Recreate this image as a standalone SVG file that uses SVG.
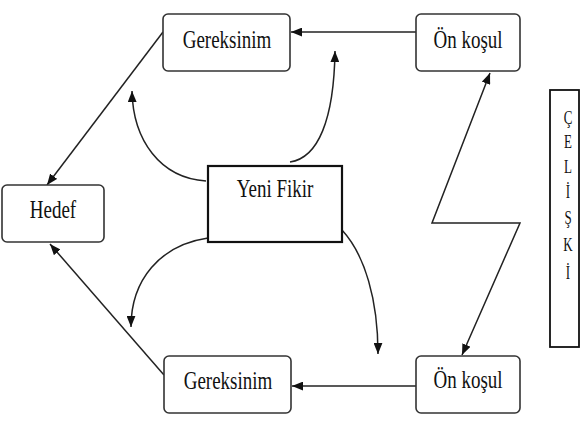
<svg xmlns="http://www.w3.org/2000/svg" width="585" height="422" viewBox="0 0 585 422">
<defs>
<style>
.box{fill:#fff;stroke:#333;stroke-width:1.6}
.fk{fill:#fff;stroke:#111;stroke-width:2.2}
.t{font-family:"Liberation Serif","Times New Roman",serif;font-size:19px;fill:#111;text-anchor:middle}
.s{font-family:"Liberation Serif","Times New Roman",serif;font-size:13px;fill:#111;text-anchor:middle}
.c{fill:none;stroke:#222;stroke-width:1.5}
</style>
<marker id="ah" viewBox="0 0 10 8" refX="10" refY="4" markerWidth="11" markerHeight="9" markerUnits="userSpaceOnUse" orient="auto-start-reverse">
<path d="M0,0 L10,4 L0,8 z" fill="#111"/>
</marker>
</defs>
<rect width="585" height="422" fill="#fff"/>
<g id="connectors">
<path class="c" d="M416,32 L291,32" marker-end="url(#ah)"/>
<path class="c" d="M416,386 L292,386" marker-end="url(#ah)"/>
<path class="c" d="M163,32 L47,185" marker-end="url(#ah)"/>
<path class="c" d="M164,375 L50,244" marker-end="url(#ah)"/>
<path class="c" d="M490,73 L432,223 L520,223 L462,355" marker-start="url(#ah)" marker-end="url(#ah)"/>
<path class="c" d="M206,181 C160,178 133,140 132,91" marker-end="url(#ah)"/>
<path class="c" d="M290,162 C318,158 334,120 335,51" marker-end="url(#ah)"/>
<path class="c" d="M208,238 C160,245 131,280 131,327" marker-end="url(#ah)"/>
<path class="c" d="M342,230 C365,255 378,300 378,354" marker-end="url(#ah)"/>
</g>
<g id="gereksinim-top">
<rect class="box" x="163" y="14" width="127" height="57" rx="5"/>
<text class="t" transform="translate(227,48) scale(1,1.38)">Gereksinim</text>
</g>
<g id="onkosul-top">
<rect class="box" x="416" y="14" width="104" height="57" rx="5"/>
<text class="t" transform="translate(468,48) scale(1,1.38)">Ön koşul</text>
</g>
<g id="hedef">
<rect class="box" x="2" y="185" width="102" height="57" rx="5"/>
<text class="t" transform="translate(53,218) scale(1,1.38)">Hedef</text>
</g>
<g id="yeni-fikir">
<rect class="fk" x="208" y="166" width="134" height="76"/>
<text class="t" transform="translate(275,197) scale(1,1.38)">Yeni Fikir</text>
</g>
<g id="gereksinim-bottom">
<rect class="box" x="164" y="356" width="127" height="57" rx="5"/>
<text class="t" transform="translate(228,389) scale(1,1.38)">Gereksinim</text>
</g>
<g id="onkosul-bottom">
<rect class="box" x="416" y="356" width="104" height="57" rx="5"/>
<text class="t" transform="translate(468,388) scale(1,1.38)">Ön koşul</text>
</g>
<g id="celiski">
<rect x="550" y="90" width="29" height="257" fill="#fff" stroke="#111" stroke-width="1.8"/>
<text class="s" transform="translate(568,124) scale(1,1.42)">Ç</text>
<text class="s" transform="translate(568,148) scale(1,1.42)">E</text>
<text class="s" transform="translate(568,173) scale(1,1.42)">L</text>
<text class="s" transform="translate(568,198) scale(1,1.42)">İ</text>
<text class="s" transform="translate(568,224) scale(1,1.42)">Ş</text>
<text class="s" transform="translate(568,251) scale(1,1.42)">K</text>
<text class="s" transform="translate(568,279) scale(1,1.42)">İ</text>
</g>
</svg>
